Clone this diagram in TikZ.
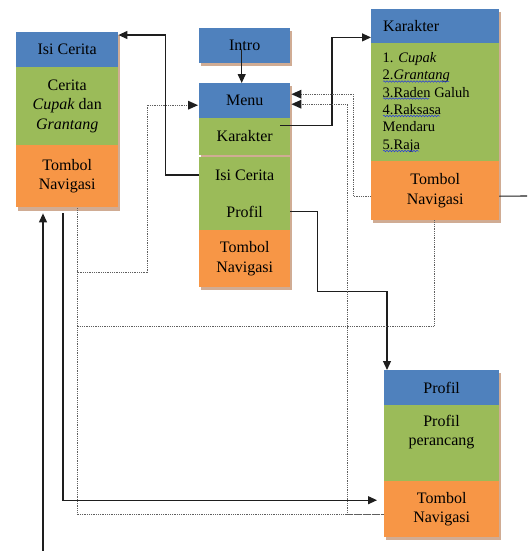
\documentclass[tikz,border=0pt]{standalone}
\usepackage{fontspec}
\setmainfont{Liberation Serif}
\usetikzlibrary{arrows.meta,calc,decorations.pathmorphing}
\definecolor{hblue}{RGB}{79,129,189}
\definecolor{bgreen}{RGB}{155,187,89}
\definecolor{borange}{RGB}{247,150,70}
\definecolor{shadowc}{RGB}{208,172,148}
\definecolor{linec}{RGB}{30,30,30}
\definecolor{dotc}{RGB}{95,95,95}
\definecolor{spellc}{RGB}{40,60,220}
\begin{document}
\begin{tikzpicture}[x=1pt,y=-1pt,
  sec/.style={rectangle, inner sep=0pt, anchor=north west, align=center,
    font=\fontsize{16pt}{19.5pt}\selectfont, text=black},
  hd/.style={sec, fill=hblue},
  gr/.style={sec, fill=bgreen},
  og/.style={sec, fill=borange},
  arr/.style={draw=linec, line width=1.1pt, -{Triangle[length=9pt,width=8pt]}},
  plain/.style={draw=linec, line width=1.1pt},
  dot/.style={draw=dotc, line width=0.9pt, dash pattern=on 1pt off 0.8pt},
  tipfill/.style={fill=linec},
  spell/.style={draw=spellc, line width=0.5pt, decorate,
    decoration={snake, amplitude=0.8pt, segment length=3pt}}
]
\useasboundingbox (0,0) rectangle (527,551);

% shadows
\fill[shadowc] (17.5,35) rectangle (119.5,210.5);
\fill[shadowc] (200.5,31) rectangle (291.5,65.5);
\fill[shadowc] (200.5,86) rectangle (291.5,290);
\fill[shadowc] (372.5,12) rectangle (500.5,223);
\fill[shadowc] (385.5,373) rectangle (500.5,540);

% Isi Cerita box
\node[hd, minimum width=102pt, minimum height=35pt] (icH) at (16,32) {Isi Cerita};
\node[gr, minimum width=102pt, minimum height=78pt] (icB) at (16,67) {Cerita\\\textit{Cupak} dan\\\textit{Grantang}};
\node[og, minimum width=102pt, minimum height=62pt] (icT) at (16,145) {Tombol\\Navigasi};

% Intro
\node[hd, minimum width=91pt, minimum height=35pt] (intro) at (199,28) {Intro};

% Menu
\node[hd, minimum width=91pt, minimum height=35pt] (mH) at (199,83) {Menu};
\node[gr, minimum width=91pt, minimum height=36.5pt] (mK) at (199,118) {Karakter};
\node[gr, minimum width=91pt, minimum height=36.5pt] (mI) at (199,156.5) {Isi Cerita};
\node[gr, minimum width=91pt, minimum height=37pt] (mP) at (199,193) {Profil};
\node[og, minimum width=91pt, minimum height=57pt] (mT) at (199,230) {Tombol\\Navigasi};

% Karakter box
\node[hd, minimum width=128pt, minimum height=34pt, text width=128pt, align=left] (kH) at (371,9) {\hspace*{12pt}Karakter};
\node[gr, minimum width=128pt, minimum height=118pt] (kB) at (371,43) {};
\node[og, minimum width=128pt, minimum height=59pt] (kT) at (371,161) {Tombol\\Navigasi};
\node[anchor=north west, inner sep=0pt, align=left,
  font=\fontsize{14.5pt}{17.4pt}\selectfont] (kL) at (382.5,52)
  {1. \textit{Cupak}\\2.\textit{Grantang}\\3.Raden Galuh\\4.Raksasa\\Mendaru\\5.Raja};
\draw[spell] (383,81.5) -- (449,81.5);
\draw[spell] (383,98.5) -- (429,98.5);
\draw[spell] (383,116) -- (440,116);
\draw[spell] (383,151) -- (419,151);

% Profil box
\node[hd, minimum width=115pt, minimum height=35pt] (pH) at (384,370) {Profil};
\node[gr, minimum width=115pt, minimum height=76pt] (pB) at (384,405) {};
\node[anchor=center, inner sep=0pt, align=center,
  font=\fontsize{16pt}{19.5pt}\selectfont] (pBt) at (441.5,432) {Profil\\perancang};
\node[og, minimum width=115pt, minimum height=56pt] (pT) at (384,481) {Tombol\\Navigasi};

% free ends
\coordinate (inL) at (43,551);
\coordinate (outR) at (527,196);

% solid connectors
\draw[arr] ($(intro.center)+(-3,4)$) -- ($(mH.north)+(-3,0)$);
\draw[arr] (mI.west) -| ($(icH.north east)+(47,3)$) -- ($(icH.north east)+(0,3)$);
\draw[arr] ($(mK.east)+(-10,-11)$) -| ($(kH.south west)+(-39,-6)$) -- ($(kH.south west)+(0,-6)$);
\draw[arr] (mP.east) -| ($(mP.east)+(27,80)$) -| ($(pH.north west)+(3,0)$);
\draw[arr] (inL) -- ($(icT.south west)+(27,6)$);
\draw[arr] ($(icT.south west)+(47,6)$) |- ($(pT.west)+(-7,-9)$);
\draw[plain] ($(kT.east)+(0,5.5)$) -- (outR);

% dotted connectors
\draw[dot] ($(icT.south west)+(61,1)$) -- ($(icT.south west)+(61,65)$) -| ($(mH.west)+(-52,4.5)$) -- ($(mH.west)+(-9,4.5)$);
\fill[tipfill] ($(mH.west)+(-1,4.5)$) -- ++(-10,-4.5) -- ++(0,9) -- cycle;
\draw[dot] ($(icT.south west)+(61,65)$) |- ($(pT.west)+(0,5)$);
\draw[dot] ($(kT.south)+(-1,0)$) |- ($(icT.south west)+(61,119)$);
\draw[dot] ($(kT.west)+(0,5.5)$) -| ($(mH.east)+(63,-6.5)$) -- ($(mH.east)+(9,-6.5)$);
\fill[tipfill] ($(mH.east)+(1,-6.5)$) -- ++(10,-4.5) -- ++(0,9) -- cycle;
\draw[dot] ($(pT.west)+(0,5)$) -| ($(mH.east)+(57,3.5)$) -- ($(mH.east)+(9,3.5)$);
\fill[tipfill] ($(mH.east)+(1,3.5)$) -- ++(10,-4.5) -- ++(0,9) -- cycle;
\end{tikzpicture}
\end{document}
